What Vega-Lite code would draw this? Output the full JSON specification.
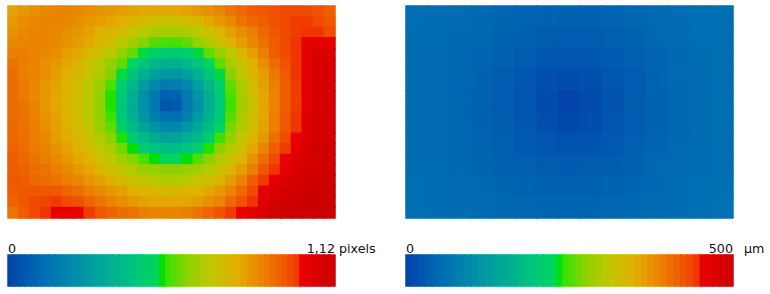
{
"$schema": "https://vega.github.io/schema/vega-lite/v6.json",
"background": "white",
"padding": {"left": 7, "top": 5, "right": 0, "bottom": 0},
"bounds": "flush",
"columns": 2,
"spacing": {"row": 37, "column": 71},
"config": {"view": {"stroke": null}},
"datasets": {
"left": [
{"x":0,"y":0,"v":0.81},{"x":1,"y":0,"v":0.83},{"x":2,"y":0,"v":0.85},{"x":3,"y":0,"v":0.86},{"x":4,"y":0,"v":0.87},{"x":5,"y":0,"v":0.87},{"x":6,"y":0,"v":0.86},{"x":7,"y":0,"v":0.85},{"x":8,"y":0,"v":0.84},{"x":9,"y":0,"v":0.83},{"x":10,"y":0,"v":0.82},{"x":11,"y":0,"v":0.81},{"x":12,"y":0,"v":0.80},{"x":13,"y":0,"v":0.80},{"x":14,"y":0,"v":0.80},{"x":15,"y":0,"v":0.80},{"x":16,"y":0,"v":0.81},{"x":17,"y":0,"v":0.83},{"x":18,"y":0,"v":0.85},{"x":19,"y":0,"v":0.87},{"x":20,"y":0,"v":0.90},{"x":21,"y":0,"v":0.92},{"x":22,"y":0,"v":0.94},{"x":23,"y":0,"v":0.95},{"x":24,"y":0,"v":0.96},{"x":25,"y":0,"v":0.97},{"x":26,"y":0,"v":0.97},{"x":27,"y":0,"v":0.97},{"x":28,"y":0,"v":0.96},{"x":29,"y":0,"v":0.94},
{"x":0,"y":1,"v":0.83},{"x":1,"y":1,"v":0.85},{"x":2,"y":1,"v":0.86},{"x":3,"y":1,"v":0.87},{"x":4,"y":1,"v":0.87},{"x":5,"y":1,"v":0.86},{"x":6,"y":1,"v":0.85},{"x":7,"y":1,"v":0.83},{"x":8,"y":1,"v":0.82},{"x":9,"y":1,"v":0.80},{"x":10,"y":1,"v":0.78},{"x":11,"y":1,"v":0.76},{"x":12,"y":1,"v":0.75},{"x":13,"y":1,"v":0.73},{"x":14,"y":1,"v":0.72},{"x":15,"y":1,"v":0.73},{"x":16,"y":1,"v":0.74},{"x":17,"y":1,"v":0.76},{"x":18,"y":1,"v":0.80},{"x":19,"y":1,"v":0.83},{"x":20,"y":1,"v":0.86},{"x":21,"y":1,"v":0.90},{"x":22,"y":1,"v":0.92},{"x":23,"y":1,"v":0.94},{"x":24,"y":1,"v":0.96},{"x":25,"y":1,"v":0.97},{"x":26,"y":1,"v":0.99},{"x":27,"y":1,"v":0.99},{"x":28,"y":1,"v":0.97},{"x":29,"y":1,"v":0.95},
{"x":0,"y":2,"v":0.84},{"x":1,"y":2,"v":0.86},{"x":2,"y":2,"v":0.87},{"x":3,"y":2,"v":0.87},{"x":4,"y":2,"v":0.86},{"x":5,"y":2,"v":0.85},{"x":6,"y":2,"v":0.83},{"x":7,"y":2,"v":0.81},{"x":8,"y":2,"v":0.78},{"x":9,"y":2,"v":0.77},{"x":10,"y":2,"v":0.74},{"x":11,"y":2,"v":0.71},{"x":12,"y":2,"v":0.68},{"x":13,"y":2,"v":0.66},{"x":14,"y":2,"v":0.65},{"x":15,"y":2,"v":0.65},{"x":16,"y":2,"v":0.66},{"x":17,"y":2,"v":0.69},{"x":18,"y":2,"v":0.73},{"x":19,"y":2,"v":0.77},{"x":20,"y":2,"v":0.82},{"x":21,"y":2,"v":0.85},{"x":22,"y":2,"v":0.88},{"x":23,"y":2,"v":0.92},{"x":24,"y":2,"v":0.95},{"x":25,"y":2,"v":0.97},{"x":26,"y":2,"v":0.99},{"x":27,"y":2,"v":1.00},{"x":28,"y":2,"v":1.00},{"x":29,"y":2,"v":0.97},
{"x":0,"y":3,"v":0.86},{"x":1,"y":3,"v":0.87},{"x":2,"y":3,"v":0.87},{"x":3,"y":3,"v":0.87},{"x":4,"y":3,"v":0.86},{"x":5,"y":3,"v":0.84},{"x":6,"y":3,"v":0.82},{"x":7,"y":3,"v":0.80},{"x":8,"y":3,"v":0.76},{"x":9,"y":3,"v":0.74},{"x":10,"y":3,"v":0.69},{"x":11,"y":3,"v":0.65},{"x":12,"y":3,"v":0.61},{"x":13,"y":3,"v":0.57},{"x":14,"y":3,"v":0.56},{"x":15,"y":3,"v":0.56},{"x":16,"y":3,"v":0.58},{"x":17,"y":3,"v":0.63},{"x":18,"y":3,"v":0.67},{"x":19,"y":3,"v":0.72},{"x":20,"y":3,"v":0.77},{"x":21,"y":3,"v":0.82},{"x":22,"y":3,"v":0.86},{"x":23,"y":3,"v":0.90},{"x":24,"y":3,"v":0.94},{"x":25,"y":3,"v":0.97},{"x":26,"y":3,"v":1.00},{"x":27,"y":3,"v":1.02},{"x":28,"y":3,"v":1.04},{"x":29,"y":3,"v":1.03},
{"x":0,"y":4,"v":0.88},{"x":1,"y":4,"v":0.88},{"x":2,"y":4,"v":0.87},{"x":3,"y":4,"v":0.86},{"x":4,"y":4,"v":0.85},{"x":5,"y":4,"v":0.82},{"x":6,"y":4,"v":0.80},{"x":7,"y":4,"v":0.76},{"x":8,"y":4,"v":0.73},{"x":9,"y":4,"v":0.69},{"x":10,"y":4,"v":0.63},{"x":11,"y":4,"v":0.58},{"x":12,"y":4,"v":0.52},{"x":13,"y":4,"v":0.48},{"x":14,"y":4,"v":0.46},{"x":15,"y":4,"v":0.46},{"x":16,"y":4,"v":0.48},{"x":17,"y":4,"v":0.52},{"x":18,"y":4,"v":0.58},{"x":19,"y":4,"v":0.64},{"x":20,"y":4,"v":0.69},{"x":21,"y":4,"v":0.76},{"x":22,"y":4,"v":0.82},{"x":23,"y":4,"v":0.88},{"x":24,"y":4,"v":0.94},{"x":25,"y":4,"v":0.97},{"x":26,"y":4,"v":1.00},{"x":27,"y":4,"v":1.03},{"x":28,"y":4,"v":1.06},{"x":29,"y":4,"v":1.06},
{"x":0,"y":5,"v":0.90},{"x":1,"y":5,"v":0.88},{"x":2,"y":5,"v":0.87},{"x":3,"y":5,"v":0.85},{"x":4,"y":5,"v":0.83},{"x":5,"y":5,"v":0.80},{"x":6,"y":5,"v":0.76},{"x":7,"y":5,"v":0.72},{"x":8,"y":5,"v":0.68},{"x":9,"y":5,"v":0.63},{"x":10,"y":5,"v":0.58},{"x":11,"y":5,"v":0.50},{"x":12,"y":5,"v":0.44},{"x":13,"y":5,"v":0.39},{"x":14,"y":5,"v":0.36},{"x":15,"y":5,"v":0.36},{"x":16,"y":5,"v":0.39},{"x":17,"y":5,"v":0.44},{"x":18,"y":5,"v":0.50},{"x":19,"y":5,"v":0.58},{"x":20,"y":5,"v":0.66},{"x":21,"y":5,"v":0.72},{"x":22,"y":5,"v":0.78},{"x":23,"y":5,"v":0.85},{"x":24,"y":5,"v":0.91},{"x":25,"y":5,"v":0.96},{"x":26,"y":5,"v":1.00},{"x":27,"y":5,"v":1.04},{"x":28,"y":5,"v":1.08},{"x":29,"y":5,"v":1.08},
{"x":0,"y":6,"v":0.91},{"x":1,"y":6,"v":0.88},{"x":2,"y":6,"v":0.87},{"x":3,"y":6,"v":0.85},{"x":4,"y":6,"v":0.82},{"x":5,"y":6,"v":0.78},{"x":6,"y":6,"v":0.75},{"x":7,"y":6,"v":0.71},{"x":8,"y":6,"v":0.67},{"x":9,"y":6,"v":0.61},{"x":10,"y":6,"v":0.52},{"x":11,"y":6,"v":0.43},{"x":12,"y":6,"v":0.36},{"x":13,"y":6,"v":0.30},{"x":14,"y":6,"v":0.27},{"x":15,"y":6,"v":0.27},{"x":16,"y":6,"v":0.30},{"x":17,"y":6,"v":0.36},{"x":18,"y":6,"v":0.44},{"x":19,"y":6,"v":0.52},{"x":20,"y":6,"v":0.62},{"x":21,"y":6,"v":0.69},{"x":22,"y":6,"v":0.76},{"x":23,"y":6,"v":0.82},{"x":24,"y":6,"v":0.89},{"x":25,"y":6,"v":0.95},{"x":26,"y":6,"v":1.00},{"x":27,"y":6,"v":1.04},{"x":28,"y":6,"v":1.08},{"x":29,"y":6,"v":1.08},
{"x":0,"y":7,"v":0.91},{"x":1,"y":7,"v":0.89},{"x":2,"y":7,"v":0.86},{"x":3,"y":7,"v":0.83},{"x":4,"y":7,"v":0.81},{"x":5,"y":7,"v":0.77},{"x":6,"y":7,"v":0.74},{"x":7,"y":7,"v":0.69},{"x":8,"y":7,"v":0.64},{"x":9,"y":7,"v":0.56},{"x":10,"y":7,"v":0.47},{"x":11,"y":7,"v":0.38},{"x":12,"y":7,"v":0.29},{"x":13,"y":7,"v":0.22},{"x":14,"y":7,"v":0.17},{"x":15,"y":7,"v":0.18},{"x":16,"y":7,"v":0.22},{"x":17,"y":7,"v":0.30},{"x":18,"y":7,"v":0.39},{"x":19,"y":7,"v":0.48},{"x":20,"y":7,"v":0.58},{"x":21,"y":7,"v":0.66},{"x":22,"y":7,"v":0.74},{"x":23,"y":7,"v":0.81},{"x":24,"y":7,"v":0.88},{"x":25,"y":7,"v":0.94},{"x":26,"y":7,"v":0.99},{"x":27,"y":7,"v":1.04},{"x":28,"y":7,"v":1.08},{"x":29,"y":7,"v":1.09},
{"x":0,"y":8,"v":0.91},{"x":1,"y":8,"v":0.89},{"x":2,"y":8,"v":0.86},{"x":3,"y":8,"v":0.83},{"x":4,"y":8,"v":0.80},{"x":5,"y":8,"v":0.77},{"x":6,"y":8,"v":0.73},{"x":7,"y":8,"v":0.68},{"x":8,"y":8,"v":0.63},{"x":9,"y":8,"v":0.54},{"x":10,"y":8,"v":0.45},{"x":11,"y":8,"v":0.35},{"x":12,"y":8,"v":0.25},{"x":13,"y":8,"v":0.16},{"x":14,"y":8,"v":0.08},{"x":15,"y":8,"v":0.09},{"x":16,"y":8,"v":0.17},{"x":17,"y":8,"v":0.26},{"x":18,"y":8,"v":0.36},{"x":19,"y":8,"v":0.46},{"x":20,"y":8,"v":0.56},{"x":21,"y":8,"v":0.65},{"x":22,"y":8,"v":0.73},{"x":23,"y":8,"v":0.80},{"x":24,"y":8,"v":0.87},{"x":25,"y":8,"v":0.94},{"x":26,"y":8,"v":0.99},{"x":27,"y":8,"v":1.04},{"x":28,"y":8,"v":1.08},{"x":29,"y":8,"v":1.09},
{"x":0,"y":9,"v":0.91},{"x":1,"y":9,"v":0.90},{"x":2,"y":9,"v":0.87},{"x":3,"y":9,"v":0.83},{"x":4,"y":9,"v":0.80},{"x":5,"y":9,"v":0.77},{"x":6,"y":9,"v":0.73},{"x":7,"y":9,"v":0.68},{"x":8,"y":9,"v":0.63},{"x":9,"y":9,"v":0.54},{"x":10,"y":9,"v":0.44},{"x":11,"y":9,"v":0.34},{"x":12,"y":9,"v":0.24},{"x":13,"y":9,"v":0.15},{"x":14,"y":9,"v":0.05},{"x":15,"y":9,"v":0.06},{"x":16,"y":9,"v":0.16},{"x":17,"y":9,"v":0.25},{"x":18,"y":9,"v":0.35},{"x":19,"y":9,"v":0.45},{"x":20,"y":9,"v":0.55},{"x":21,"y":9,"v":0.65},{"x":22,"y":9,"v":0.72},{"x":23,"y":9,"v":0.80},{"x":24,"y":9,"v":0.87},{"x":25,"y":9,"v":0.94},{"x":26,"y":9,"v":0.99},{"x":27,"y":9,"v":1.04},{"x":28,"y":9,"v":1.08},{"x":29,"y":9,"v":1.09},
{"x":0,"y":10,"v":0.91},{"x":1,"y":10,"v":0.90},{"x":2,"y":10,"v":0.87},{"x":3,"y":10,"v":0.84},{"x":4,"y":10,"v":0.81},{"x":5,"y":10,"v":0.77},{"x":6,"y":10,"v":0.73},{"x":7,"y":10,"v":0.69},{"x":8,"y":10,"v":0.63},{"x":9,"y":10,"v":0.55},{"x":10,"y":10,"v":0.45},{"x":11,"y":10,"v":0.36},{"x":12,"y":10,"v":0.27},{"x":13,"y":10,"v":0.19},{"x":14,"y":10,"v":0.13},{"x":15,"y":10,"v":0.13},{"x":16,"y":10,"v":0.20},{"x":17,"y":10,"v":0.28},{"x":18,"y":10,"v":0.37},{"x":19,"y":10,"v":0.46},{"x":20,"y":10,"v":0.57},{"x":21,"y":10,"v":0.66},{"x":22,"y":10,"v":0.73},{"x":23,"y":10,"v":0.80},{"x":24,"y":10,"v":0.88},{"x":25,"y":10,"v":0.95},{"x":26,"y":10,"v":1.00},{"x":27,"y":10,"v":1.05},{"x":28,"y":10,"v":1.08},{"x":29,"y":10,"v":1.09},
{"x":0,"y":11,"v":0.92},{"x":1,"y":11,"v":0.90},{"x":2,"y":11,"v":0.88},{"x":3,"y":11,"v":0.85},{"x":4,"y":11,"v":0.81},{"x":5,"y":11,"v":0.78},{"x":6,"y":11,"v":0.74},{"x":7,"y":11,"v":0.70},{"x":8,"y":11,"v":0.64},{"x":9,"y":11,"v":0.58},{"x":10,"y":11,"v":0.49},{"x":11,"y":11,"v":0.40},{"x":12,"y":11,"v":0.32},{"x":13,"y":11,"v":0.26},{"x":14,"y":11,"v":0.22},{"x":15,"y":11,"v":0.22},{"x":16,"y":11,"v":0.27},{"x":17,"y":11,"v":0.33},{"x":18,"y":11,"v":0.41},{"x":19,"y":11,"v":0.50},{"x":20,"y":11,"v":0.60},{"x":21,"y":11,"v":0.67},{"x":22,"y":11,"v":0.74},{"x":23,"y":11,"v":0.81},{"x":24,"y":11,"v":0.88},{"x":25,"y":11,"v":0.95},{"x":26,"y":11,"v":1.00},{"x":27,"y":11,"v":1.05},{"x":28,"y":11,"v":1.09},{"x":29,"y":11,"v":1.10},
{"x":0,"y":12,"v":0.92},{"x":1,"y":12,"v":0.91},{"x":2,"y":12,"v":0.88},{"x":3,"y":12,"v":0.86},{"x":4,"y":12,"v":0.82},{"x":5,"y":12,"v":0.79},{"x":6,"y":12,"v":0.76},{"x":7,"y":12,"v":0.72},{"x":8,"y":12,"v":0.67},{"x":9,"y":12,"v":0.62},{"x":10,"y":12,"v":0.54},{"x":11,"y":12,"v":0.46},{"x":12,"y":12,"v":0.40},{"x":13,"y":12,"v":0.35},{"x":14,"y":12,"v":0.31},{"x":15,"y":12,"v":0.32},{"x":16,"y":12,"v":0.35},{"x":17,"y":12,"v":0.40},{"x":18,"y":12,"v":0.47},{"x":19,"y":12,"v":0.55},{"x":20,"y":12,"v":0.63},{"x":21,"y":12,"v":0.70},{"x":22,"y":12,"v":0.77},{"x":23,"y":12,"v":0.83},{"x":24,"y":12,"v":0.91},{"x":25,"y":12,"v":0.97},{"x":26,"y":12,"v":1.01},{"x":27,"y":12,"v":1.06},{"x":28,"y":12,"v":1.09},{"x":29,"y":12,"v":1.10},
{"x":0,"y":13,"v":0.93},{"x":1,"y":13,"v":0.91},{"x":2,"y":13,"v":0.89},{"x":3,"y":13,"v":0.87},{"x":4,"y":13,"v":0.84},{"x":5,"y":13,"v":0.81},{"x":6,"y":13,"v":0.77},{"x":7,"y":13,"v":0.74},{"x":8,"y":13,"v":0.70},{"x":9,"y":13,"v":0.66},{"x":10,"y":13,"v":0.60},{"x":11,"y":13,"v":0.53},{"x":12,"y":13,"v":0.47},{"x":13,"y":13,"v":0.43},{"x":14,"y":13,"v":0.41},{"x":15,"y":13,"v":0.41},{"x":16,"y":13,"v":0.44},{"x":17,"y":13,"v":0.48},{"x":18,"y":13,"v":0.54},{"x":19,"y":13,"v":0.62},{"x":20,"y":13,"v":0.67},{"x":21,"y":13,"v":0.73},{"x":22,"y":13,"v":0.80},{"x":23,"y":13,"v":0.87},{"x":24,"y":13,"v":0.94},{"x":25,"y":13,"v":0.99},{"x":26,"y":13,"v":1.03},{"x":27,"y":13,"v":1.07},{"x":28,"y":13,"v":1.10},{"x":29,"y":13,"v":1.11},
{"x":0,"y":14,"v":0.94},{"x":1,"y":14,"v":0.92},{"x":2,"y":14,"v":0.90},{"x":3,"y":14,"v":0.88},{"x":4,"y":14,"v":0.86},{"x":5,"y":14,"v":0.83},{"x":6,"y":14,"v":0.80},{"x":7,"y":14,"v":0.77},{"x":8,"y":14,"v":0.73},{"x":9,"y":14,"v":0.69},{"x":10,"y":14,"v":0.65},{"x":11,"y":14,"v":0.61},{"x":12,"y":14,"v":0.56},{"x":13,"y":14,"v":0.53},{"x":14,"y":14,"v":0.51},{"x":15,"y":14,"v":0.51},{"x":16,"y":14,"v":0.53},{"x":17,"y":14,"v":0.57},{"x":18,"y":14,"v":0.62},{"x":19,"y":14,"v":0.67},{"x":20,"y":14,"v":0.72},{"x":21,"y":14,"v":0.77},{"x":22,"y":14,"v":0.84},{"x":23,"y":14,"v":0.91},{"x":24,"y":14,"v":0.97},{"x":25,"y":14,"v":1.01},{"x":26,"y":14,"v":1.05},{"x":27,"y":14,"v":1.08},{"x":28,"y":14,"v":1.10},{"x":29,"y":14,"v":1.11},
{"x":0,"y":15,"v":0.94},{"x":1,"y":15,"v":0.93},{"x":2,"y":15,"v":0.91},{"x":3,"y":15,"v":0.90},{"x":4,"y":15,"v":0.88},{"x":5,"y":15,"v":0.86},{"x":6,"y":15,"v":0.83},{"x":7,"y":15,"v":0.80},{"x":8,"y":15,"v":0.77},{"x":9,"y":15,"v":0.73},{"x":10,"y":15,"v":0.70},{"x":11,"y":15,"v":0.67},{"x":12,"y":15,"v":0.64},{"x":13,"y":15,"v":0.63},{"x":14,"y":15,"v":0.62},{"x":15,"y":15,"v":0.62},{"x":16,"y":15,"v":0.63},{"x":17,"y":15,"v":0.65},{"x":18,"y":15,"v":0.68},{"x":19,"y":15,"v":0.72},{"x":20,"y":15,"v":0.77},{"x":21,"y":15,"v":0.82},{"x":22,"y":15,"v":0.88},{"x":23,"y":15,"v":0.95},{"x":24,"y":15,"v":1.00},{"x":25,"y":15,"v":1.04},{"x":26,"y":15,"v":1.07},{"x":27,"y":15,"v":1.10},{"x":28,"y":15,"v":1.11},{"x":29,"y":15,"v":1.12},
{"x":0,"y":16,"v":0.95},{"x":1,"y":16,"v":0.94},{"x":2,"y":16,"v":0.92},{"x":3,"y":16,"v":0.91},{"x":4,"y":16,"v":0.90},{"x":5,"y":16,"v":0.88},{"x":6,"y":16,"v":0.86},{"x":7,"y":16,"v":0.83},{"x":8,"y":16,"v":0.81},{"x":9,"y":16,"v":0.78},{"x":10,"y":16,"v":0.75},{"x":11,"y":16,"v":0.72},{"x":12,"y":16,"v":0.70},{"x":13,"y":16,"v":0.68},{"x":14,"y":16,"v":0.67},{"x":15,"y":16,"v":0.67},{"x":16,"y":16,"v":0.68},{"x":17,"y":16,"v":0.71},{"x":18,"y":16,"v":0.73},{"x":19,"y":16,"v":0.77},{"x":20,"y":16,"v":0.82},{"x":21,"y":16,"v":0.87},{"x":22,"y":16,"v":0.94},{"x":23,"y":16,"v":0.99},{"x":24,"y":16,"v":1.03},{"x":25,"y":16,"v":1.06},{"x":26,"y":16,"v":1.09},{"x":27,"y":16,"v":1.11},{"x":28,"y":16,"v":1.12},{"x":29,"y":16,"v":1.12},
{"x":0,"y":17,"v":0.94},{"x":1,"y":17,"v":0.95},{"x":2,"y":17,"v":0.95},{"x":3,"y":17,"v":0.95},{"x":4,"y":17,"v":0.95},{"x":5,"y":17,"v":0.93},{"x":6,"y":17,"v":0.91},{"x":7,"y":17,"v":0.88},{"x":8,"y":17,"v":0.86},{"x":9,"y":17,"v":0.83},{"x":10,"y":17,"v":0.81},{"x":11,"y":17,"v":0.78},{"x":12,"y":17,"v":0.77},{"x":13,"y":17,"v":0.76},{"x":14,"y":17,"v":0.75},{"x":15,"y":17,"v":0.75},{"x":16,"y":17,"v":0.76},{"x":17,"y":17,"v":0.77},{"x":18,"y":17,"v":0.80},{"x":19,"y":17,"v":0.83},{"x":20,"y":17,"v":0.87},{"x":21,"y":17,"v":0.92},{"x":22,"y":17,"v":0.97},{"x":23,"y":17,"v":1.02},{"x":24,"y":17,"v":1.06},{"x":25,"y":17,"v":1.09},{"x":26,"y":17,"v":1.10},{"x":27,"y":17,"v":1.12},{"x":28,"y":17,"v":1.12},{"x":29,"y":17,"v":1.12},
{"x":0,"y":18,"v":0.93},{"x":1,"y":18,"v":0.95},{"x":2,"y":18,"v":0.97},{"x":3,"y":18,"v":0.98},{"x":4,"y":18,"v":0.99},{"x":5,"y":18,"v":0.97},{"x":6,"y":18,"v":0.96},{"x":7,"y":18,"v":0.93},{"x":8,"y":18,"v":0.90},{"x":9,"y":18,"v":0.87},{"x":10,"y":18,"v":0.85},{"x":11,"y":18,"v":0.83},{"x":12,"y":18,"v":0.81},{"x":13,"y":18,"v":0.80},{"x":14,"y":18,"v":0.80},{"x":15,"y":18,"v":0.80},{"x":16,"y":18,"v":0.80},{"x":17,"y":18,"v":0.82},{"x":18,"y":18,"v":0.84},{"x":19,"y":18,"v":0.87},{"x":20,"y":18,"v":0.92},{"x":21,"y":18,"v":0.96},{"x":22,"y":18,"v":1.00},{"x":23,"y":18,"v":1.05},{"x":24,"y":18,"v":1.08},{"x":25,"y":18,"v":1.10},{"x":26,"y":18,"v":1.12},{"x":27,"y":18,"v":1.12},{"x":28,"y":18,"v":1.12},{"x":29,"y":18,"v":1.12},
{"x":0,"y":19,"v":0.90},{"x":1,"y":19,"v":0.94},{"x":2,"y":19,"v":0.97},{"x":3,"y":19,"v":1.00},{"x":4,"y":19,"v":1.02},{"x":5,"y":19,"v":1.02},{"x":6,"y":19,"v":1.01},{"x":7,"y":19,"v":0.99},{"x":8,"y":19,"v":0.95},{"x":9,"y":19,"v":0.93},{"x":10,"y":19,"v":0.91},{"x":11,"y":19,"v":0.90},{"x":12,"y":19,"v":0.88},{"x":13,"y":19,"v":0.87},{"x":14,"y":19,"v":0.87},{"x":15,"y":19,"v":0.87},{"x":16,"y":19,"v":0.88},{"x":17,"y":19,"v":0.90},{"x":18,"y":19,"v":0.93},{"x":19,"y":19,"v":0.96},{"x":20,"y":19,"v":0.99},{"x":21,"y":19,"v":1.01},{"x":22,"y":19,"v":1.04},{"x":23,"y":19,"v":1.08},{"x":24,"y":19,"v":1.10},{"x":25,"y":19,"v":1.12},{"x":26,"y":19,"v":1.12},{"x":27,"y":19,"v":1.12},{"x":28,"y":19,"v":1.12},{"x":29,"y":19,"v":1.12}
],
"right": [
{"x":0,"y":0,"v":55},{"x":1,"y":0,"v":53},{"x":2,"y":0,"v":51},{"x":3,"y":0,"v":47},{"x":4,"y":0,"v":44},{"x":5,"y":0,"v":42},{"x":6,"y":0,"v":39},{"x":7,"y":0,"v":38},{"x":8,"y":0,"v":39},{"x":9,"y":0,"v":42},{"x":10,"y":0,"v":45},{"x":11,"y":0,"v":48},{"x":12,"y":0,"v":52},{"x":13,"y":0,"v":55},{"x":14,"y":0,"v":57},
{"x":0,"y":1,"v":54},{"x":1,"y":1,"v":52},{"x":2,"y":1,"v":48},{"x":3,"y":1,"v":45},{"x":4,"y":1,"v":40},{"x":5,"y":1,"v":36},{"x":6,"y":1,"v":32},{"x":7,"y":1,"v":31},{"x":8,"y":1,"v":32},{"x":9,"y":1,"v":35},{"x":10,"y":1,"v":40},{"x":11,"y":1,"v":45},{"x":12,"y":1,"v":50},{"x":13,"y":1,"v":55},{"x":14,"y":1,"v":57},
{"x":0,"y":2,"v":54},{"x":1,"y":2,"v":50},{"x":2,"y":2,"v":46},{"x":3,"y":2,"v":42},{"x":4,"y":2,"v":36},{"x":5,"y":2,"v":30},{"x":6,"y":2,"v":25},{"x":7,"y":2,"v":23},{"x":8,"y":2,"v":25},{"x":9,"y":2,"v":29},{"x":10,"y":2,"v":35},{"x":11,"y":2,"v":42},{"x":12,"y":2,"v":48},{"x":13,"y":2,"v":53},{"x":14,"y":2,"v":56},
{"x":0,"y":3,"v":53},{"x":1,"y":3,"v":49},{"x":2,"y":3,"v":45},{"x":3,"y":3,"v":40},{"x":4,"y":3,"v":32},{"x":5,"y":3,"v":25},{"x":6,"y":3,"v":17},{"x":7,"y":3,"v":12},{"x":8,"y":3,"v":16},{"x":9,"y":3,"v":24},{"x":10,"y":3,"v":31},{"x":11,"y":3,"v":40},{"x":12,"y":3,"v":47},{"x":13,"y":3,"v":52},{"x":14,"y":3,"v":56},
{"x":0,"y":4,"v":53},{"x":1,"y":4,"v":49},{"x":2,"y":4,"v":45},{"x":3,"y":4,"v":39},{"x":4,"y":4,"v":31},{"x":5,"y":4,"v":23},{"x":6,"y":4,"v":12},{"x":7,"y":4,"v":2},{"x":8,"y":4,"v":10},{"x":9,"y":4,"v":21},{"x":10,"y":4,"v":30},{"x":11,"y":4,"v":39},{"x":12,"y":4,"v":46},{"x":13,"y":4,"v":51},{"x":14,"y":4,"v":56},
{"x":0,"y":5,"v":53},{"x":1,"y":5,"v":49},{"x":2,"y":5,"v":45},{"x":3,"y":5,"v":39},{"x":4,"y":5,"v":32},{"x":5,"y":5,"v":24},{"x":6,"y":5,"v":15},{"x":7,"y":5,"v":9},{"x":8,"y":5,"v":14},{"x":9,"y":5,"v":23},{"x":10,"y":5,"v":31},{"x":11,"y":5,"v":39},{"x":12,"y":5,"v":46},{"x":13,"y":5,"v":52},{"x":14,"y":5,"v":56},
{"x":0,"y":6,"v":53},{"x":1,"y":6,"v":50},{"x":2,"y":6,"v":46},{"x":3,"y":6,"v":42},{"x":4,"y":6,"v":35},{"x":5,"y":6,"v":29},{"x":6,"y":6,"v":23},{"x":7,"y":6,"v":20},{"x":8,"y":6,"v":22},{"x":9,"y":6,"v":28},{"x":10,"y":6,"v":34},{"x":11,"y":6,"v":42},{"x":12,"y":6,"v":47},{"x":13,"y":6,"v":53},{"x":14,"y":6,"v":56},
{"x":0,"y":7,"v":54},{"x":1,"y":7,"v":52},{"x":2,"y":7,"v":48},{"x":3,"y":7,"v":44},{"x":4,"y":7,"v":39},{"x":5,"y":7,"v":34},{"x":6,"y":7,"v":30},{"x":7,"y":7,"v":29},{"x":8,"y":7,"v":30},{"x":9,"y":7,"v":33},{"x":10,"y":7,"v":38},{"x":11,"y":7,"v":45},{"x":12,"y":7,"v":49},{"x":13,"y":7,"v":54},{"x":14,"y":7,"v":57},
{"x":0,"y":8,"v":55},{"x":1,"y":8,"v":53},{"x":2,"y":8,"v":50},{"x":3,"y":8,"v":47},{"x":4,"y":8,"v":44},{"x":5,"y":8,"v":40},{"x":6,"y":8,"v":37},{"x":7,"y":8,"v":36},{"x":8,"y":8,"v":37},{"x":9,"y":8,"v":40},{"x":10,"y":8,"v":43},{"x":11,"y":8,"v":47},{"x":12,"y":8,"v":52},{"x":13,"y":8,"v":56},{"x":14,"y":8,"v":58},
{"x":0,"y":9,"v":56},{"x":1,"y":9,"v":54},{"x":2,"y":9,"v":53},{"x":3,"y":9,"v":50},{"x":4,"y":9,"v":47},{"x":5,"y":9,"v":45},{"x":6,"y":9,"v":44},{"x":7,"y":9,"v":43},{"x":8,"y":9,"v":44},{"x":9,"y":9,"v":45},{"x":10,"y":9,"v":47},{"x":11,"y":9,"v":50},{"x":12,"y":9,"v":54},{"x":13,"y":9,"v":57},{"x":14,"y":9,"v":59}
],
"barL": [
{"v":0.01},{"v":0.03},{"v":0.05},{"v":0.07},{"v":0.09},{"v":0.11},{"v":0.13},{"v":0.15},{"v":0.17},{"v":0.19},{"v":0.21},{"v":0.23},{"v":0.25},{"v":0.27},{"v":0.29},{"v":0.31},{"v":0.33},{"v":0.35},{"v":0.37},{"v":0.39},{"v":0.41},{"v":0.43},{"v":0.45},{"v":0.47},{"v":0.49},{"v":0.51},{"v":0.53},{"v":0.55},{"v":0.57},{"v":0.59},{"v":0.61},{"v":0.63},{"v":0.65},{"v":0.67},{"v":0.69},{"v":0.71},{"v":0.73},{"v":0.75},{"v":0.77},{"v":0.79},{"v":0.81},{"v":0.83},{"v":0.85},{"v":0.87},{"v":0.89},{"v":0.91},{"v":0.93},{"v":0.95},{"v":0.97},{"v":0.99},{"v":1.01},{"v":1.03},{"v":1.05},{"v":1.07},{"v":1.09},{"v":1.11}
],
"barR": [
{"v":5},{"v":15},{"v":25},{"v":35},{"v":45},{"v":55},{"v":65},{"v":75},{"v":85},{"v":95},{"v":105},{"v":115},{"v":125},{"v":135},{"v":145},{"v":155},{"v":165},{"v":175},{"v":185},{"v":195},{"v":205},{"v":215},{"v":225},{"v":235},{"v":245},{"v":255},{"v":265},{"v":275},{"v":285},{"v":295},{"v":305},{"v":315},{"v":325},{"v":335},{"v":345},{"v":355},{"v":365},{"v":375},{"v":385},{"v":395},{"v":405},{"v":415},{"v":425},{"v":435},{"v":445},{"v":455},{"v":465},{"v":475},{"v":485},{"v":495}
],
"labL": [{"t":"0","p":0}],
"labL2": [{"t":"1,12","p":1.12}],
"labL3": [{"t":"pixels","p":1.12}],
"labR": [{"t":"0","p":0}],
"labR2": [{"t":"500","p":500}],
"labR3": [{"t":"µm","p":500}]
},
"resolve": {"scale": {"x": "independent", "y": "independent", "color": "independent", "stroke": "independent"}},
"concat": [
{
"width": 327, "height": 212,
"data": {"name": "left"},
"mark": {"type": "rect", "strokeWidth": 1.5},
"encoding": {
"x": {"field": "x", "type": "ordinal", "axis": null, "scale": {"paddingInner": 0, "paddingOuter": 0, "round": false}},
"y": {"field": "y", "type": "ordinal", "axis": null, "scale": {"paddingInner": 0, "paddingOuter": 0, "round": false}},
"color": {"field": "v", "type": "quantitative", "legend": null, "scale": {"domain": [0, 0.112, 0.224, 0.336, 0.448, 0.515, 0.531, 0.549, 0.616, 0.694, 0.784, 0.874, 0.963, 1.004, 1.006, 1.12], "range": ["#0242aa", "#006bb3", "#008aab", "#00aa96", "#00c878", "#00d75a", "#00e000", "#3ce100", "#8cd200", "#bec800", "#e1af00", "#eb8200", "#f05000", "#f03200", "#eb0000", "#cd0000"], "interpolate": "rgb"}},
"stroke": {"field": "v", "type": "quantitative", "legend": null, "scale": {"domain": [0, 0.112, 0.224, 0.336, 0.448, 0.515, 0.531, 0.549, 0.616, 0.694, 0.784, 0.874, 0.963, 1.004, 1.006, 1.12], "range": ["#0242aa", "#006bb3", "#008aab", "#00aa96", "#00c878", "#00d75a", "#00e000", "#3ce100", "#8cd200", "#bec800", "#e1af00", "#eb8200", "#f05000", "#f03200", "#eb0000", "#cd0000"], "interpolate": "rgb"}}
}
},
{
"width": 327, "height": 212,
"data": {"name": "right"},
"mark": {"type": "rect", "strokeWidth": 1.5},
"encoding": {
"x": {"field": "x", "type": "ordinal", "axis": null, "scale": {"paddingInner": 0, "paddingOuter": 0, "round": false}},
"y": {"field": "y", "type": "ordinal", "axis": null, "scale": {"paddingInner": 0, "paddingOuter": 0, "round": false}},
"color": {"field": "v", "type": "quantitative", "legend": null, "scale": {"domain": [0, 50, 100, 150, 200, 230, 237, 245, 275, 310, 350, 390, 430, 448, 449, 500], "range": ["#0242aa", "#006bb3", "#008aab", "#00aa96", "#00c878", "#00d75a", "#00e000", "#3ce100", "#8cd200", "#bec800", "#e1af00", "#eb8200", "#f05000", "#f03200", "#eb0000", "#cd0000"], "interpolate": "rgb"}},
"stroke": {"field": "v", "type": "quantitative", "legend": null, "scale": {"domain": [0, 50, 100, 150, 200, 230, 237, 245, 275, 310, 350, 390, 430, 448, 449, 500], "range": ["#0242aa", "#006bb3", "#008aab", "#00aa96", "#00c878", "#00d75a", "#00e000", "#3ce100", "#8cd200", "#bec800", "#e1af00", "#eb8200", "#f05000", "#f03200", "#eb0000", "#cd0000"], "interpolate": "rgb"}}
}
},
{
"width": 327, "height": 31,
"layer": [
{
"data": {"name": "barL"},
"mark": {"type": "rect", "strokeWidth": 1.5},
"encoding": {
"x": {"field": "v", "type": "ordinal", "axis": null, "scale": {"paddingInner": 0, "paddingOuter": 0, "round": false}},
"color": {"field": "v", "type": "quantitative", "legend": null, "scale": {"domain": [0, 0.112, 0.224, 0.336, 0.448, 0.515, 0.531, 0.549, 0.616, 0.694, 0.784, 0.874, 0.963, 1.004, 1.006, 1.12], "range": ["#0242aa", "#006bb3", "#008aab", "#00aa96", "#00c878", "#00d75a", "#00e000", "#3ce100", "#8cd200", "#bec800", "#e1af00", "#eb8200", "#f05000", "#f03200", "#eb0000", "#cd0000"], "interpolate": "rgb"}},
"stroke": {"field": "v", "type": "quantitative", "legend": null, "scale": {"domain": [0, 0.112, 0.224, 0.336, 0.448, 0.515, 0.531, 0.549, 0.616, 0.694, 0.784, 0.874, 0.963, 1.004, 1.006, 1.12], "range": ["#0242aa", "#006bb3", "#008aab", "#00aa96", "#00c878", "#00d75a", "#00e000", "#3ce100", "#8cd200", "#bec800", "#e1af00", "#eb8200", "#f05000", "#f03200", "#eb0000", "#cd0000"], "interpolate": "rgb"}}
}
},
{
"data": {"name": "labL"},
"mark": {"type": "text", "align": "left", "baseline": "alphabetic", "dy": -2, "font": "DejaVu Sans", "fontSize": 12.7, "fill": "#111"},
"encoding": {
"x": {"field": "p", "type": "quantitative", "axis": null, "scale": {"domain": [0, 1.12], "nice": false}},
"y": {"datum": 1, "type": "quantitative", "axis": null, "scale": {"domain": [0, 1]}},
"text": {"field": "t"}
}
},
{
"data": {"name": "labL2"},
"mark": {"type": "text", "align": "right", "baseline": "alphabetic", "dy": -2, "font": "DejaVu Sans", "fontSize": 12.7, "fill": "#111"},
"encoding": {
"x": {"field": "p", "type": "quantitative", "axis": null, "scale": {"domain": [0, 1.12], "nice": false}},
"y": {"datum": 1, "type": "quantitative", "axis": null, "scale": {"domain": [0, 1]}},
"text": {"field": "t"}
}
},
{
"data": {"name": "labL3"},
"mark": {"type": "text", "align": "left", "baseline": "alphabetic", "dy": -2, "dx": 4, "font": "DejaVu Sans", "fontSize": 12.7, "fill": "#111"},
"encoding": {
"x": {"field": "p", "type": "quantitative", "axis": null, "scale": {"domain": [0, 1.12], "nice": false}},
"y": {"datum": 1, "type": "quantitative", "axis": null, "scale": {"domain": [0, 1]}},
"text": {"field": "t"}
}
}
],
"resolve": {"scale": {"x": "independent", "y": "independent", "color": "independent", "stroke": "independent"}}
},
{
"width": 327, "height": 31,
"layer": [
{
"data": {"name": "barR"},
"mark": {"type": "rect", "strokeWidth": 1.5},
"encoding": {
"x": {"field": "v", "type": "ordinal", "axis": null, "scale": {"paddingInner": 0, "paddingOuter": 0, "round": false}},
"color": {"field": "v", "type": "quantitative", "legend": null, "scale": {"domain": [0, 50, 100, 150, 200, 230, 237, 245, 275, 310, 350, 390, 430, 448, 449, 500], "range": ["#0242aa", "#006bb3", "#008aab", "#00aa96", "#00c878", "#00d75a", "#00e000", "#3ce100", "#8cd200", "#bec800", "#e1af00", "#eb8200", "#f05000", "#f03200", "#eb0000", "#cd0000"], "interpolate": "rgb"}},
"stroke": {"field": "v", "type": "quantitative", "legend": null, "scale": {"domain": [0, 50, 100, 150, 200, 230, 237, 245, 275, 310, 350, 390, 430, 448, 449, 500], "range": ["#0242aa", "#006bb3", "#008aab", "#00aa96", "#00c878", "#00d75a", "#00e000", "#3ce100", "#8cd200", "#bec800", "#e1af00", "#eb8200", "#f05000", "#f03200", "#eb0000", "#cd0000"], "interpolate": "rgb"}}
}
},
{
"data": {"name": "labR"},
"mark": {"type": "text", "align": "left", "baseline": "alphabetic", "dy": -2, "font": "DejaVu Sans", "fontSize": 12.7, "fill": "#111"},
"encoding": {
"x": {"field": "p", "type": "quantitative", "axis": null, "scale": {"domain": [0, 500], "nice": false}},
"y": {"datum": 1, "type": "quantitative", "axis": null, "scale": {"domain": [0, 1]}},
"text": {"field": "t"}
}
},
{
"data": {"name": "labR2"},
"mark": {"type": "text", "align": "right", "baseline": "alphabetic", "dy": -2, "font": "DejaVu Sans", "fontSize": 12.7, "fill": "#111"},
"encoding": {
"x": {"field": "p", "type": "quantitative", "axis": null, "scale": {"domain": [0, 500], "nice": false}},
"y": {"datum": 1, "type": "quantitative", "axis": null, "scale": {"domain": [0, 1]}},
"text": {"field": "t"}
}
},
{
"data": {"name": "labR3"},
"mark": {"type": "text", "align": "left", "baseline": "alphabetic", "dy": -2, "dx": 11, "font": "DejaVu Sans", "fontSize": 12.7, "fill": "#111"},
"encoding": {
"x": {"field": "p", "type": "quantitative", "axis": null, "scale": {"domain": [0, 500], "nice": false}},
"y": {"datum": 1, "type": "quantitative", "axis": null, "scale": {"domain": [0, 1]}},
"text": {"field": "t"}
}
}
],
"resolve": {"scale": {"x": "independent", "y": "independent", "color": "independent", "stroke": "independent"}}
}
]
}
